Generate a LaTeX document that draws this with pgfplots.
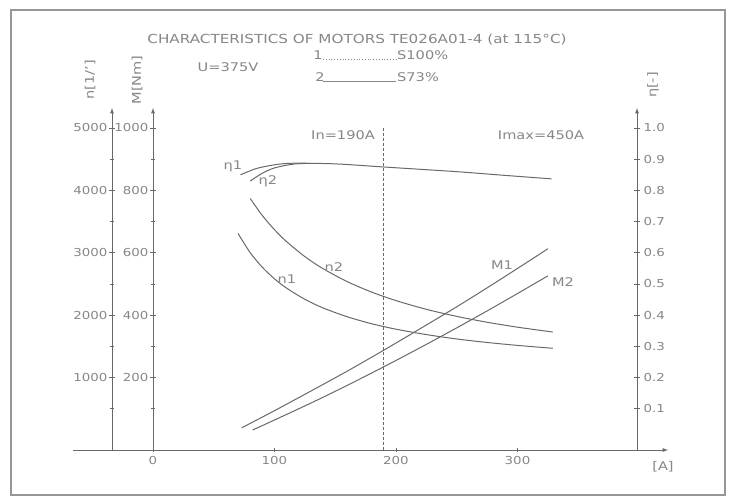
\documentclass[border=0pt]{standalone}
\usepackage{fontspec}
\setmainfont{DejaVu Sans}[FakeStretch=1.22]
\usepackage{pgfplots}
\pgfplotsset{compat=1.18}
\definecolor{ink}{RGB}{105,105,105}
\definecolor{txt}{RGB}{135,135,135}
\pgfplotsset{
  base/.style={scale only axis, height=342bp, anchor=south west, clip=false,
    /pgf/number format/assume math mode=true,
    tick align=center, major tick length=6bp, minor tick length=4bp,
    every tick/.style={ink, line width=0.7bp},
    tick label style={txt, font=\fontsize{11}{13}\selectfont},
    axis line style={ink, line width=0.9bp},
  },
  crv/.style={ink, line width=1bp, smooth, no marks},
}
\begin{document}
\begin{tikzpicture}
\useasboundingbox (0,0) rectangle (733bp,499bp);
\fill[white] (0,0) rectangle (733bp,499bp);
\draw[ink!70, line width=1.3bp] (11bp,4bp) rectangle (725bp,489bp);

% main x axis
\begin{axis}[base, at={(73bp,49bp)}, width=595bp,
  xmin=-65.84, xmax=423.87, ymin=-160.26, ymax=5320.5,
  axis x line=bottom, axis y line=none,
  x axis line style={-latex},
  xtick={0,100,200,300}, major tick length=4bp,
  xticklabel style={yshift=-1bp}]
\addplot[ink, line width=0.8bp, densely dashed] coordinates {(190,5000) (190,-160)};
\end{axis}

% n axis and n curves
\begin{axis}[base, at={(112bp,49bp)}, width=556bp,
  xmin=-33.74, xmax=423.87, ymin=-160.26, ymax=5320.5,
  axis y line=left, axis x line=none, y axis line style={-latex},
  ytick={1000,2000,3000,4000,5000},
  minor ytick={500,1500,2500,3500,4500},
  yticklabel style={xshift=2bp, /pgf/number format/.cd, 1000 sep={}}]
\addplot[crv] coordinates {(70,3310) (80,3002) (90,2768) (100,2583) (110,2433) (125,2255) (140,2116) (160,1974) (180,1863) (200,1776) (225,1689) (250,1619) (275,1563) (300,1516) (329,1470)};
\addplot[crv] coordinates {(80,3870) (90,3597) (100,3370) (110,3178) (125,2939) (140,2745) (160,2537) (180,2370) (200,2234) (225,2094) (250,1981) (275,1887) (300,1808) (329,1730)};
\end{axis}

% M axis and M curves
\begin{axis}[base, at={(153bp,49bp)}, width=515bp,
  xmin=0, xmax=423.87, ymin=-32.05, ymax=1064.1,
  axis y line=left, axis x line=none, y axis line style={-latex},
  ytick={200,400,600,800,1000},
  minor ytick={100,300,500,700,900},
  yticklabel style={xshift=2bp, /pgf/number format/.cd, 1000 sep={}}]
\addplot[crv] coordinates {(73,39) (100,94) (130,157) (160,221) (190,288) (220,357) (250,427) (280,500) (310,575) (325,613)};
\addplot[crv] coordinates {(82,32) (110,82) (140,137) (170,195) (200,255) (230,317) (260,381) (290,447) (325,526)};
\end{axis}

% eta axis and eta curves
\begin{axis}[base, at={(153bp,49bp)}, width=484bp,
  xmin=0, xmax=398.35, ymin=-0.03205, ymax=1.0641,
  axis y line=right, axis x line=none, y axis line style={-latex},
  ytick={0.1,0.2,0.3,0.4,0.5,0.6,0.7,0.8,0.9,1.0},
  yticklabel style={/pgf/number format/.cd, fixed, fixed zerofill, precision=1}]
\addplot[crv] coordinates {(72,0.850) (85,0.870) (100,0.882) (115,0.887) (150,0.885) (190,0.875) (250,0.860) (290,0.848) (328,0.837)};
\addplot[crv] coordinates {(80,0.830) (90,0.855) (100,0.872) (115,0.884) (130,0.887)};
\end{axis}

\begin{scope}[every node/.style={txt, font=\fontsize{12}{14}\selectfont}]
\node[font=\fontsize{12.5}{14}\selectfont] at (357bp,459bp) {CHARACTERISTICS OF MOTORS TE026A01-4 (at 115°C)};
\node at (228bp,432bp) {U=375V};
\node at (318bp,444bp) {1};
\draw[txt, dotted, line width=0.8bp] (323bp,440bp) -- (396bp,440bp);
\node[anchor=west, inner sep=0pt] at (397bp,444bp) {S100\%};
\node at (320bp,422bp) {2};
\draw[txt, line width=0.6bp] (323bp,418bp) -- (396bp,418bp);
\node[anchor=west, inner sep=0pt] at (397bp,422bp) {S73\%};
\node[rotate=90] at (90bp,419bp) {n[1/']};
\node[rotate=90] at (137bp,419bp) {M[Nm]};
\node[rotate=90] at (653bp,414bp) {η[-]};
\node at (343bp,364bp) {In=190A};
\node at (541bp,364bp) {Imax=450A};
\node at (233bp,333bp) {η1};
\node at (268bp,318bp) {η2};
\node at (287bp,220bp) {n1};
\node at (334bp,232bp) {n2};
\node at (502bp,234bp) {M1};
\node at (563bp,217bp) {M2};
\node at (663bp,32bp) {[A]};
\end{scope}
\end{tikzpicture}
\end{document}
